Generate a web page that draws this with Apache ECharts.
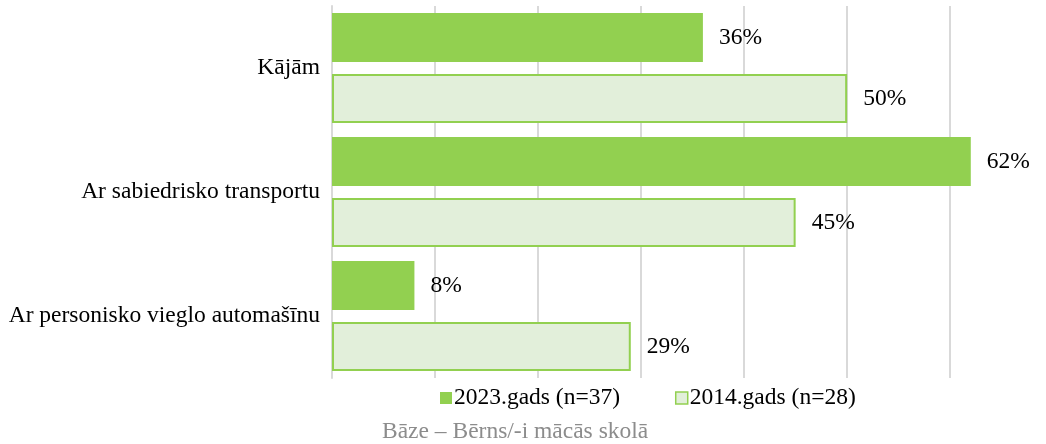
<!DOCTYPE html>
<html>
<head>
<meta charset="utf-8">
<script src="https://cdn.jsdelivr.net/npm/echarts@6/dist/echarts.min.js"></script>
<style>
  html, body { margin: 0; padding: 0; background: #ffffff; }
  #chart { width: 1046px; height: 444px; }
</style>
</head>
<body>
<div id="chart"></div>
<script>
// Ways of getting to school, share of answers (%)
const categories = ['Kājām', 'Ar sabiedrisko transportu', 'Ar personisko vieglo automašīnu'];
const seriesNames = ['2023.gads (n=37)', '2014.gads (n=28)'];
const values2023 = [36, 62, 8];
const values2014 = [50, 45, 29];
const baseNote = 'Bāze – Bērns/-i mācās skolā';

const GREEN = '#92d050';
const PALE = '#e2efda';
const FONT = '"Liberation Serif", "Times New Roman", serif';
const FONT_SIZE = 23.5;

const chart = echarts.init(document.getElementById('chart'), null, { renderer: 'canvas' });

const labelStyle = {
  show: true,
  position: 'right',
  distance: 16,
  formatter: '{c}%',
  color: '#000000',
  fontFamily: FONT,
  fontSize: FONT_SIZE
};

chart.setOption({
  animation: false,
  backgroundColor: '#ffffff',
  title: {
    text: baseNote,
    left: 382,
    top: 420,
    padding: 0,
    textStyle: { color: '#8c8c8c', fontFamily: FONT, fontSize: FONT_SIZE, fontWeight: 'normal' }
  },
  legend: {
    left: 440,
    top: 386,
    padding: 0,
    itemWidth: 12,
    itemHeight: 12,
    itemGap: 55,
    icon: 'rect',
    textStyle: { color: '#000000', fontFamily: FONT, fontSize: FONT_SIZE, padding: [0, 0, 0, -3] },
    data: [
      { name: seriesNames[0], itemStyle: { color: GREEN, borderWidth: 0 } },
      { name: seriesNames[1], itemStyle: { color: PALE, borderColor: GREEN, borderWidth: 1.5 } }
    ]
  },
  grid: { left: 332, right: 0, top: 6, bottom: 66, containLabel: false },
  xAxis: {
    type: 'value',
    min: 0,
    max: 69.3,
    interval: 10,
    axisLine: { show: false },
    axisTick: { show: false },
    axisLabel: { show: false },
    splitLine: { show: true, showMaxLine: false, lineStyle: { color: '#d9d9d9', width: 2 } }
  },
  yAxis: {
    type: 'category',
    data: categories,
    inverse: true,
    axisLine: { show: true, lineStyle: { color: '#d9d9d9', width: 2 } },
    axisTick: { show: false },
    axisLabel: { color: '#000000', fontFamily: FONT, fontSize: FONT_SIZE, margin: 12 }
  },
  series: [
    {
      name: seriesNames[0],
      type: 'bar',
      data: values2023,
      barWidth: 49,
      barGap: '24%',
      itemStyle: { color: GREEN },
      label: labelStyle
    },
    {
      name: seriesNames[1],
      type: 'bar',
      data: values2014,
      barWidth: 49,
      barGap: '24%',
      itemStyle: { color: PALE, borderColor: GREEN, borderWidth: 2 },
      label: labelStyle
    }
  ]
});
</script>
</body>
</html>
